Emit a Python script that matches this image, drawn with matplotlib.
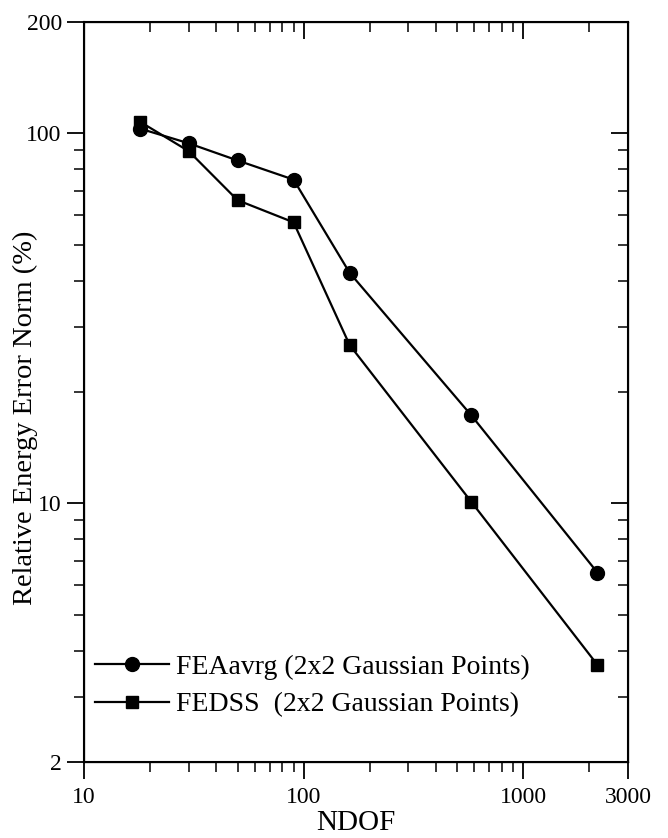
import matplotlib
matplotlib.use("Agg")
import matplotlib.pyplot as plt
from matplotlib.ticker import FixedLocator, NullFormatter, FixedFormatter

ndof = [18, 30, 50, 90, 162, 580, 2178]
fea_avrg = [103, 94, 84.5, 75, 42, 17.3, 6.5]
fedss = [107.5, 89.5, 66, 57.5, 26.8, 10.1, 3.66]

x_major = [10, 100, 1000, 3000]
x_major_labels = ["10", "100", "1000", "3000"]
y_major = [2, 10, 100, 200]
y_major_labels = ["2", "10", "100", "200"]

plt.rcParams['font.family'] = ['Liberation Serif', 'DejaVu Serif']

fig = plt.figure(figsize=(6.68, 8.38), dpi=100)
ax = fig.add_axes([84/668, 76/838, 544/668, 740/838])

ax.plot(ndof, fea_avrg, '-', color='black', lw=1.6, marker='o', ms=10,
        label='FEAavrg (2x2 Gaussian Points)')
ax.plot(ndof, fedss, '-', color='black', lw=1.6, marker='s', ms=9,
        label='FEDSS  (2x2 Gaussian Points)')

ax.set_xscale('log')
ax.set_yscale('log')
ax.set_xlim(10, 3000)
ax.set_ylim(2, 200)

xminor = [m * d for d in (10, 100, 1000) for m in range(2, 10) if m * d < 3000]
yminor = [m * d for d in (1, 10, 100) for m in range(2, 10) if 2 < m * d < 200]

ax.xaxis.set_major_locator(FixedLocator(x_major))
ax.xaxis.set_major_formatter(FixedFormatter(x_major_labels))
ax.xaxis.set_minor_locator(FixedLocator(xminor))
ax.xaxis.set_minor_formatter(NullFormatter())
ax.yaxis.set_major_locator(FixedLocator(y_major))
ax.yaxis.set_major_formatter(FixedFormatter(y_major_labels))
ax.yaxis.set_minor_locator(FixedLocator(yminor))
ax.yaxis.set_minor_formatter(NullFormatter())

for s in ax.spines.values():
    s.set_linewidth(1.5)

ax.tick_params(which='major', length=12, width=1.3, labelsize=17, direction='out')
ax.tick_params(axis='y', which='major', pad=4)
ax.tick_params(axis='x', which='major', pad=6)
ax.tick_params(which='minor', length=7, width=1.1, direction='out')

# mirrored inward ticks on top and right
ax2 = ax.twinx()
ax2.set_yscale('log')
ax2.set_ylim(2, 200)
ax2.yaxis.set_major_locator(FixedLocator(y_major))
ax2.yaxis.set_minor_locator(FixedLocator(yminor))
ax2.yaxis.set_major_formatter(NullFormatter())
ax2.yaxis.set_minor_formatter(NullFormatter())
ax2.tick_params(which='major', length=12, width=1.3, direction='in')
ax2.tick_params(which='minor', length=7, width=1.1, direction='in')
ax3 = ax.twiny()
ax3.set_xscale('log')
ax3.set_xlim(10, 3000)
ax3.xaxis.set_major_locator(FixedLocator(x_major))
ax3.xaxis.set_minor_locator(FixedLocator(xminor))
ax3.xaxis.set_major_formatter(NullFormatter())
ax3.xaxis.set_minor_formatter(NullFormatter())
ax3.tick_params(which='major', length=12, width=1.3, direction='in')
ax3.tick_params(which='minor', length=7, width=1.1, direction='in')

ax.set_xlabel('NDOF', fontsize=21)
ax.xaxis.set_label_coords(0.5, (762 - 810) / 740)
ax.set_ylabel('Relative Energy Error Norm (%)', fontsize=20.5)
ax.yaxis.set_label_coords((38 - 84) / 544, (762 - 418) / 740)

leg = ax.legend(loc='lower left', bbox_to_anchor=(0.0, 0.045), frameon=False,
                fontsize=20, handlelength=2.65, handletextpad=0.25,
                labelspacing=0.45, borderaxespad=0.4, borderpad=0.0)

fig.savefig('out.png', dpi=100)
